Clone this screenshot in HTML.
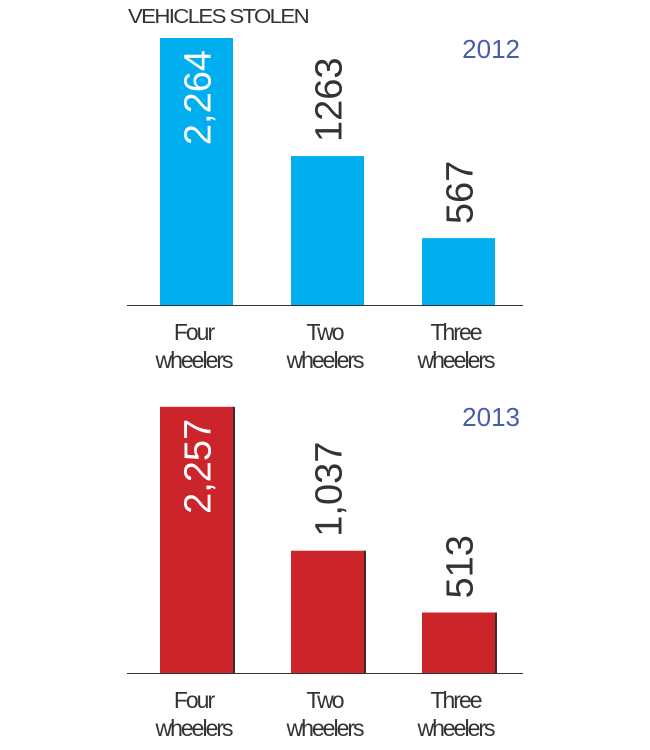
<!DOCTYPE html>
<html><head><meta charset="utf-8"><style>
body{margin:0;background:#fff;}
svg{display:block;font-family:"Liberation Sans",sans-serif;}
</style></head><body>
<svg width="650" height="750" viewBox="0 0 650 750" id="chart">
<text x="128" y="23" font-size="20" fill="#333" letter-spacing="-1.5" textLength="180" lengthAdjust="spacingAndGlyphs">VEHICLES STOLEN</text>
</svg>
<script>
const categories = ["Four|wheelers", "Two|wheelers", "Three|wheelers"];
const values2012 = [2264, 1263, 567];
const values2013 = [2257, 1037, 513];
const labels2012 = ["2,264", "1263", "567"];
const labels2013 = ["2,257", "1,037", "513"];
const years = ["2012", "2013"];

const NS = "http://www.w3.org/2000/svg";
const svg = document.getElementById('chart');
function mk(tag, attrs, parent){const e=document.createElementNS(NS,tag);for(const k in attrs)e.setAttribute(k,attrs[k]);(parent||svg).appendChild(e);return e;}

const scale = 267/2264;
const xBand = i => 160 + i*131;
const barW = 73;
const yScale = v => v*scale;

function panel(vals, labels, year, baseY, color, shadow, idx){
  const g = mk('g',{});
  
  
  vals.forEach((v,i)=>{
    const h = yScale(v), x = xBand(i), top = baseY - h;
    if(shadow){
      const s = mk('rect',{x:x+barW-1,y:top,width:3,height:h,fill:'#3a2a2a'},g);
      
      
    }
    const r = mk('rect',{x:x,y:top,width:barW,height:h,fill:color},g);
    
    
    const cx = x + barW/2 + 14;
    const inside = h > 200;
    const ty = inside ? top + 12 : top - 14;
    const t = mk('text',{x:cx,y:ty,transform:`rotate(-90 ${cx} ${ty})`,'font-size':38,fill:inside?'#fff':'#333','text-anchor':inside?'end':'start'},g);
    t.textContent = labels[i];
    
    
    const parts = categories[i].split('|');
    parts.forEach((p,j)=>{
      const c = mk('text',{x:x+barW/2-3,y:baseY+35+j*28,'font-size':23,fill:'#333','text-anchor':'middle','letter-spacing':'-2'},g);
      c.textContent = p;
      
      
    });
  });
  const ax = mk('line',{x1:127,x2:523,y1:baseY+0.5,y2:baseY+0.5,stroke:'#333','stroke-width':1},g);
  
  
  const yr = mk('text',{x:520,y:baseY - (idx===0?247:247),'font-size':26,fill:'#4a5ea8','text-anchor':'end'},g);
  yr.textContent = year;
  
  
}
panel(values2012, labels2012, years[0], 305, '#00aeef', false, 0);
panel(values2013, labels2013, years[1], 673, '#cc242b', true, 1);
</script>
</body></html>
